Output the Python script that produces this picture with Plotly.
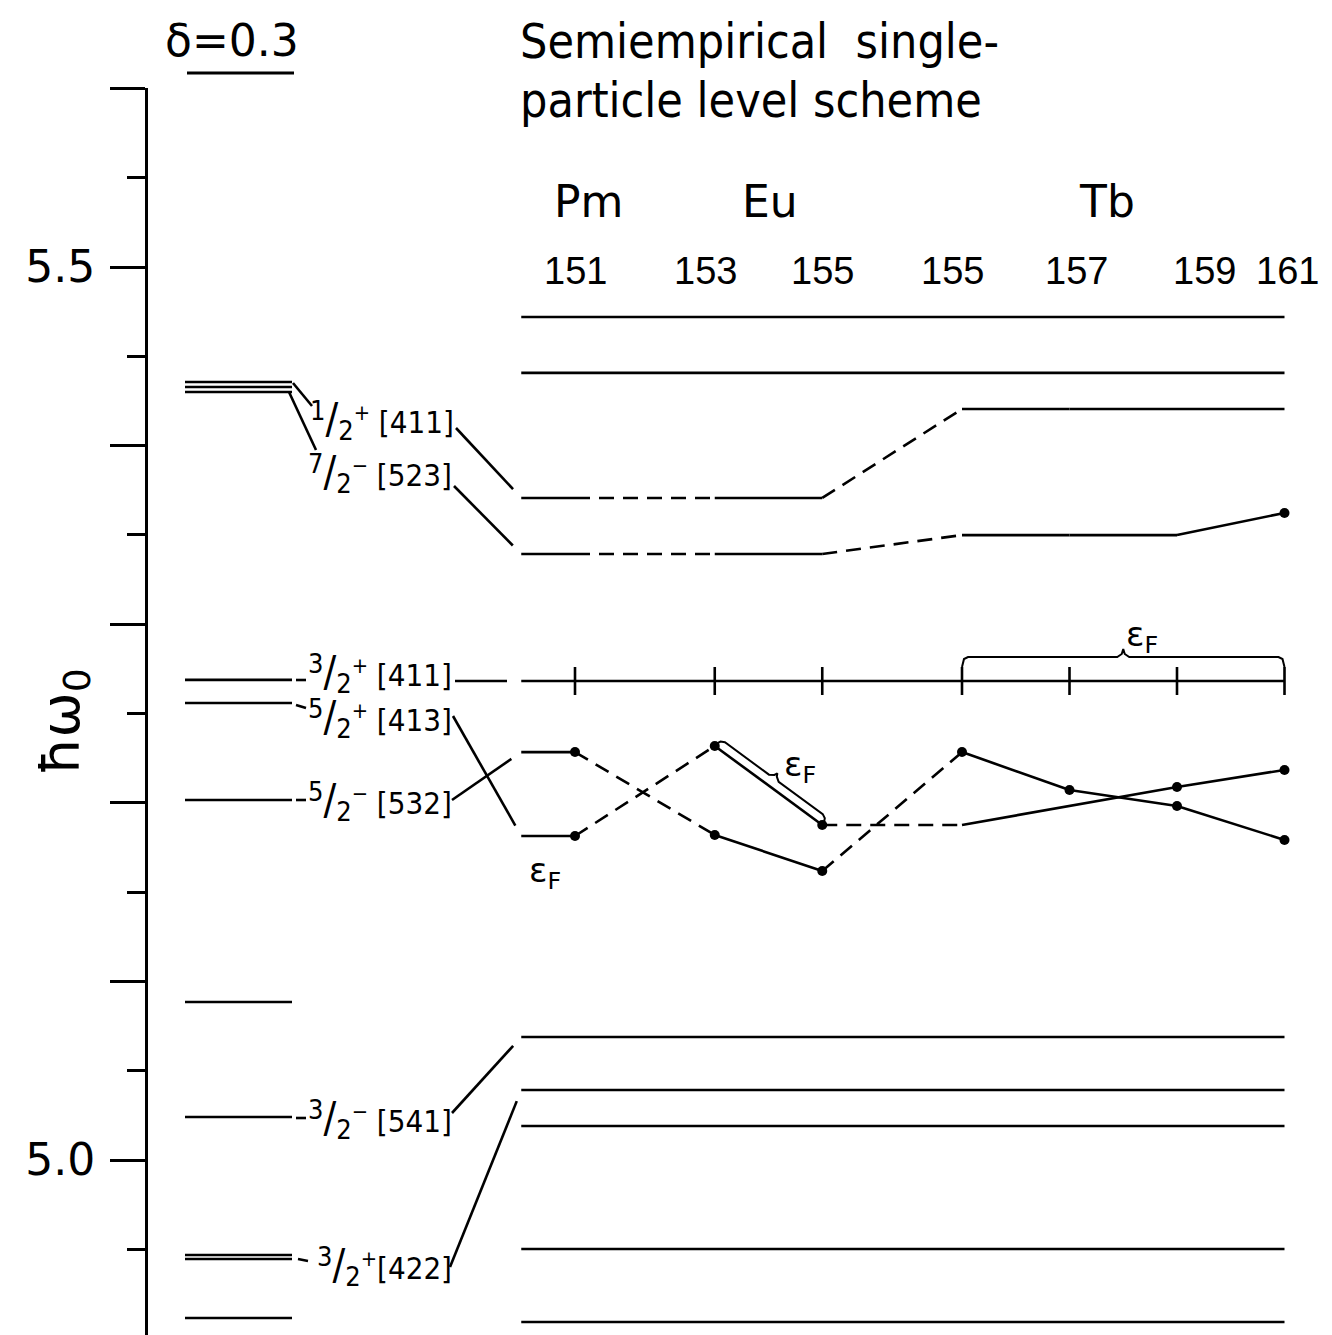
import plotly.graph_objects as go

# ---------------- data (energies in units of hbar*omega0) ----------------
nuclei_element = ["Pm", "Eu", "Eu", "Tb", "Tb", "Tb", "Tb"]
nuclei_mass = ["151", "153", "155", "155", "157", "159", "161"]
element_names = ["Pm", "Eu", "Tb"]

# Nilsson levels at delta = 0.3 (left column)
delta_levels = [5.4356, 5.4328, 5.4300, 5.2688, 5.2559, 5.2016,
                5.0885, 5.0241, 4.9468, 4.9446, 4.9115]

# semiempirical levels that are the same for all nuclei
common_levels = [5.4720, 5.4407, 5.0689, 5.0392, 5.0190, 4.9502, 4.9093]

# nucleus dependent levels (order of nuclei_mass)
lvl_12p_411 = [5.3707, 5.3707, 5.3707, 5.4205, 5.4205, 5.4205, 5.4205]
lvl_72m_523 = [5.3393, 5.3393, 5.3393, 5.3499, 5.3499, 5.3499, 5.3623]
lvl_32p_411 = 5.2682
lvl_52m_532 = [5.2284, 5.1820, 5.1618, 5.2284, 5.2072, 5.1982, 5.1792]
lvl_52p_413 = [5.1814, 5.2318, 5.1876, 5.1876, None, 5.2088, 5.2184]

dots_52m_532 = [1, 1, 1, 1, 1, 1, 1]
dots_52p_413 = [1, 1, 1, 0, 0, 1, 1]
dots_72m_523 = [0, 0, 0, 0, 0, 0, 1]

level_omega = ["1", "7", "3", "5", "5", "3", "3"]
level_parity = ["+", "−", "+", "+", "−", "−", "+"]
level_nilsson = [" [411]", " [523]", " [411]", " [413]", " [532]", " [541]", "[422]"]


def frac_label(num, par, nil):
    big = "<span style='font-size:27px'>%s</span>"
    return ("<sup>" + big % num + "</sup>"
            + "<span style='font-size:42px'>/</span>"
            + "<sub>" + big % "2" + "</sub><sup>" + par + "</sup>" + nil)


level_labels = [frac_label(o, p, n) for o, p, n in zip(level_omega, level_parity, level_nilsson)]

# ---------------- layout geometry ----------------
W, H = 1332, 1335
ML, MT = 148, 88
X0, U = 575.0, 107.5          # pixel of first nucleus column, pixels per column unit
Y5, S = 1160.0, 1786.0        # pixel of 5.0, pixels per unit energy

col_pos = [0, 1.3, 2.3, 3.6, 4.6, 5.6, 6.6]


def dx(px):
    return (px - X0) / U


def dy(py):
    return 5.0 + (Y5 - py) / S


def px_(x):
    return X0 + x * U


def py_(e):
    return Y5 - (e - 5.0) * S


def paper_x(px):
    return (px - ML) / (W - ML)


def paper_y(py):
    return (H - py) / (H - MT)


FONT = "DejaVu Sans, sans-serif"
CFONT = "DejaVu Sans Condensed, DejaVu Sans, sans-serif"
NUMFONT = "Liberation Sans, DejaVu Sans, sans-serif"
LW = 2.6
DASH = "15px,9px"

fig = go.Figure()


def seg(xs, ys, dash="solid", width=LW, shape="linear"):
    fig.add_trace(go.Scatter(x=xs, y=ys, mode="lines",
                             line=dict(color="black", width=width, dash=dash, shape=shape),
                             hoverinfo="skip", showlegend=False))


def dots(vals, flags):
    xs = [col_pos[i] for i, v in enumerate(vals) if v is not None and flags[i]]
    ys = [v for i, v in enumerate(vals) if v is not None and flags[i]]
    fig.add_trace(go.Scatter(x=xs, y=ys, mode="markers",
                             marker=dict(size=10, color="black"),
                             hoverinfo="skip", showlegend=False))


def nucleus_level(vals):
    idx = [i for i, v in enumerate(vals) if v is not None]
    seg([-0.5, col_pos[idx[0]]], [vals[idx[0]]] * 2)
    for a, b in zip(idx[:-1], idx[1:]):
        dash = "solid" if nuclei_element[a] == nuclei_element[b] else DASH
        seg([col_pos[a], col_pos[b]], [vals[a], vals[b]], dash)


# ---- left column (delta = 0.3)
LEFT = (dx(185), dx(292))
for e in delta_levels:
    seg(list(LEFT), [e, e])

# ---- common levels
for e in common_levels:
    seg([-0.5, col_pos[-1]], [e, e])

# ---- nucleus-dependent levels
nucleus_level(lvl_12p_411)
nucleus_level(lvl_72m_523)
dots(lvl_72m_523, dots_72m_523)
nucleus_level(lvl_52m_532)
dots(lvl_52m_532, dots_52m_532)
nucleus_level(lvl_52p_413)
dots(lvl_52p_413, dots_52p_413)

# 3/2+[411] line with column ticks
seg([-0.5, col_pos[-1]], [lvl_32p_411] * 2)
fig.add_trace(go.Scatter(x=col_pos, y=[lvl_32p_411] * len(col_pos), mode="markers",
                         marker=dict(symbol="line-ns", size=20,
                                     line=dict(width=2.6, color="black")),
                         hoverinfo="skip", showlegend=False))


# ---- braces marking the Fermi level
def brace(p1, p2, d, h, t, sign=1):
    (x1, y1), (x2, y2) = p1, p2
    L = ((x2 - x1) ** 2 + (y2 - y1) ** 2) ** 0.5
    ax, ay = (x2 - x1) / L, (y2 - y1) / L
    nx, ny = ay * sign, -ax * sign
    mx, my = (x1 + x2) / 2, (y1 + y2) / 2
    r = 6
    pts = [
        (x1 + nx * (d - h), y1 + ny * (d - h)),
        (x1 + ax * 2 + nx * (d - 2), y1 + ay * 2 + ny * (d - 2)),
        (x1 + ax * r + nx * d, y1 + ay * r + ny * d),
        (mx - ax * r + nx * d, my - ay * r + ny * d),
        (mx - ax * 1.5 + nx * (d + 3), my - ay * 1.5 + ny * (d + 3)),
        (mx + nx * (d + t), my + ny * (d + t)),
        (mx + ax * 1.5 + nx * (d + 3), my + ay * 1.5 + ny * (d + 3)),
        (mx + ax * r + nx * d, my + ay * r + ny * d),
        (x2 - ax * r + nx * d, y2 - ay * r + ny * d),
        (x2 - ax * 2 + nx * (d - 2), y2 - ay * 2 + ny * (d - 2)),
        (x2 + nx * (d - h), y2 + ny * (d - h)),
    ]
    seg([dx(p[0]) for p in pts], [dy(p[1]) for p in pts], width=2)


brace((px_(col_pos[3]), py_(lvl_32p_411)), (px_(col_pos[6]), py_(lvl_32p_411)), 24, 10, 8, sign=1)
brace((px_(col_pos[1]), py_(lvl_52p_413[1])), (px_(col_pos[2]), py_(lvl_52p_413[2])), 9, 6, 6, sign=1)

# ---- leader lines between the left column, labels and the scheme
leaders = [
    [(293, 383), (312, 406)],
    [(289, 392), (316, 450)],
    [(296, 680), (306, 680)],
    [(296, 705), (306, 708)],
    [(296, 800), (306, 800)],
    [(296, 1118), (306, 1118)],
    [(298, 1259), (308, 1261)],
    [(455, 681), (507, 681)],
]
for p in leaders:
    seg([dx(p[0][0]), dx(p[1][0])], [dy(p[0][1]), dy(p[1][1])])

# connectors label -> first value of the scheme
conn_start = [(456, 428), (454, 486), (453, 716), (452, 800), (452, 1113), (450, 1267)]
conn_target = [lvl_12p_411[0], lvl_72m_523[0], lvl_52p_413[0], lvl_52m_532[0],
               common_levels[2], common_levels[3]]
for (sx, sy), e in zip(conn_start, conn_target):
    tx, ty = px_(-0.5), py_(e)
    L = ((tx - sx) ** 2 + (ty - sy) ** 2) ** 0.5
    ex, ey = tx - (tx - sx) / L * 12, ty - (ty - sy) / L * 12
    seg([dx(sx), dx(ex)], [dy(sy), dy(ey)])

# ---------------- text ----------------
ann = []


def txt(text, px, py, size, anchor="center", ref="data", font=FONT, angle=0):
    if ref == "data":
        ann.append(dict(text=text, x=dx(px), y=dy(py), xref="x", yref="y",
                        xanchor=anchor, yanchor="middle", showarrow=False,
                        textangle=angle, font=dict(family=font, size=size, color="black")))
    else:
        ann.append(dict(text=text, x=paper_x(px), y=paper_y(py), xref="paper", yref="paper",
                        xanchor=anchor, yanchor="middle", showarrow=False,
                        textangle=angle, font=dict(family=font, size=size, color="black")))


label_pos = [(456, 420), (454, 473), (454, 673), (454, 718), (454, 801), (454, 1119), (454, 1266)]
for lab, (x, y) in zip(level_labels, label_pos):
    txt(lab, x, y, 31, anchor="right", font=CFONT)

# Fermi-level labels
txt("ε<sub>F</sub>", 545, 872, 34)
txt("ε<sub>F</sub>", 800, 766, 34)
txt("ε<sub>F</sub>", 1142, 636, 34)

# headers
txt("δ=0.3", 232, 40, 44, ref="paper")
txt("Semiempirical  single-", 518, 41, 48, anchor="left", ref="paper", font=CFONT)
txt("particle level scheme", 518, 100, 48, anchor="left", ref="paper", font=CFONT)

element_px = [588, 770, 1107]
for name, x in zip(element_names, element_px):
    txt(name, x, 202, 44, ref="paper")
mass_px = [575, 705, 822, 952, 1076, 1204, 1287]
for m, x in zip(nuclei_mass, mass_px):
    txt(m, x, 271, 38, ref="paper", font=NUMFONT)

txt("ħω<sub>0</sub>", 64, 722, 54, ref="paper", angle=-90)

# underline of delta header
shapes = [dict(type="line", xref="paper", yref="paper",
               x0=paper_x(187), x1=paper_x(294), y0=paper_y(73), y1=paper_y(73),
               line=dict(color="black", width=3))]

fig.update_layout(
    width=W, height=H,
    margin=dict(l=ML, r=0, t=MT, b=0, pad=0),
    paper_bgcolor="white", plot_bgcolor="white",
    annotations=ann, shapes=shapes,
    xaxis=dict(range=[dx(ML), dx(W)], visible=False, fixedrange=True),
    yaxis=dict(range=[dy(H), dy(MT)], showgrid=False, zeroline=False,
               showline=True, linecolor="black", linewidth=3,
               ticks="outside", ticklen=35, tickwidth=3, tickcolor="black",
               tickmode="array",
               tickvals=[5.0, 5.1, 5.2, 5.3, 5.4, 5.5, 5.6],
               ticktext=["5.0", "", "", "", "", "5.5", ""],
               tickfont=dict(family="DejaVu Sans", size=44, color="black"),
               ticklabelstandoff=6,
               minor=dict(tickmode="linear", tick0=5.0, dtick=0.05, ticks="outside",
                          ticklen=18, tickwidth=3, tickcolor="black"),
               fixedrange=True),
    showlegend=False,
)

fig.write_html("out.html", config={"displayModeBar": False},
               post_script="document.body.style.margin='0';")
